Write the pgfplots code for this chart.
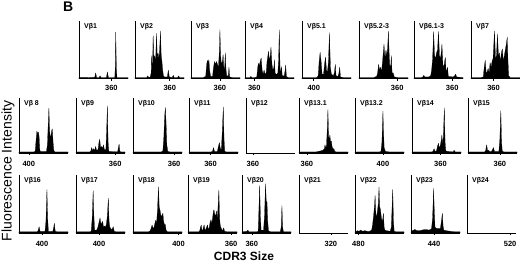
\documentclass[border=0pt]{standalone}
\usepackage{fontspec}
\setmainfont{Liberation Sans}
\usepackage{pgfplots}
\pgfplotsset{compat=1.18}
\newcommand\tickfont{\bfseries\fontsize{7.5}{8}\selectfont}
\newcommand\ttlfont{\bfseries\fontsize{7}{8}\selectfont}
\pgfplotsset{
 panel/.style={scale only axis, width=49pt, xmin=0, xmax=100, ymin=0, ymax=100,
   axis lines=left, axis line style={-, line width=0.8pt},
   ytick=\empty, tick align=outside, major tick length=2pt,
   xtick style={line width=0.6pt, black},
   xticklabel style={font=\tickfont, inner sep=1pt, yshift=-3pt},
   anchor=south west, clip=false},
 r1/.style={height=57.5pt},
 r2/.style={height=55pt, xticklabel style={yshift=-2pt}},
 r3/.style={height=58pt, xticklabel style={yshift=-2pt}},
 spec/.style={fill=black, draw=black, line width=0.2pt, line join=round},
}
\newcommand\ttl[1]{\node[anchor=north west, font=\ttlfont, inner sep=0pt] at (rel axis cs:0.1,0.96) {#1};}
\begin{document}
\begin{tikzpicture}
\useasboundingbox (0pt,0pt) rectangle (520pt,263pt);
\node[anchor=north west, inner sep=0pt, font=\bfseries\fontsize{14}{14}\selectfont] at (63pt,261pt) {B};
\node[rotate=90, font=\fontsize{14}{14}\selectfont] at (8pt,92pt) {Fluorescence Intensity};
\node[font=\bfseries\fontsize{12}{12}\selectfont, inner sep=0pt, anchor=base] at (244pt,2.5pt) {CDR3 Size};

% ---------- Row 1 ----------
\begin{axis}[panel, r1, at={(79pt,184.3pt)}, xtick={66}, xticklabels={360}]
\addplot[spec] coordinates {(0,2)(10,2.5)(20,2)(30,2.5)(32,2)(34,10)(36,2)(41,2)(43,5)(45,2)(56,2)(58,12)(60,2)(73,2)(74,20)(75,81)(76.2,20)(77.5,2)(90,2)(100,2)} \closedcycle;
\ttl{Vβ1}
\end{axis}
\begin{axis}[panel, r1, at={(135pt,184.3pt)}, xtick={71}, xticklabels={360}]
\addplot[spec] coordinates {(0,2)(20,2)(24,2)(26,5)(28,2)(31,3)(33,10)(34,40)(35,20)(36,30)(37,75)(38.5,35)(40,40)(42,30)(44,79)(45.5,35)(47,45)(49,35)(50.5,55)(52,83)(53.5,40)(55,30)(56.5,15)(58,5)(60,3)(66,3)(68,15)(70,3)(76,2)(78,6)(80,2)(87,2)(89,5)(91,2)(100,2)} \closedcycle;
\ttl{Vβ2}
\end{axis}
\begin{axis}[panel, r1, at={(191pt,184.3pt)}, xtick={59}, xticklabels={360}]
\addplot[spec] coordinates {(0,2)(25,2)(30,4)(32,25)(33.5,32)(35,28)(36.5,33)(38,15)(40,4)(44,4)(46,20)(48,30)(50,25)(52,30)(54,25)(56,20)(58,50)(59,85)(60.5,40)(62,25)(64,30)(65.5,42)(67,20)(68.5,15)(70,45)(71.5,15)(73,5)(76,5)(77.5,20)(79,3)(85,2)(100,2)} \closedcycle;
\ttl{Vβ3}
\end{axis}
\begin{axis}[panel, r1, at={(245pt,184.3pt)}, xtick={19}, xticklabels={360}]
\addplot[spec] coordinates {(0,2)(10,2)(12,4)(14,2)(20,2)(24,3)(26,20)(27.5,27)(29,22)(31,30)(33,36)(35,15)(37,8)(39,15)(40.5,10)(43,8)(45,30)(48,48)(50,30)(51.5,40)(53,55)(55,25)(57,15)(59,20)(60,33)(61.5,10)(63,8)(65,8)(67,10)(68.5,30)(70,85)(71.5,20)(73,10)(74.5,21)(76,5)(80,5)(82,15)(83,24)(84.5,4)(88,2)(100,2)} \closedcycle;
\ttl{Vβ4}
\end{axis}
\begin{axis}[panel, r1, at={(302pt,184.3pt)}, xtick={24}, xticklabels={400}]
\addplot[spec] coordinates {(0,2)(30,2)(33,5)(35,30)(37,46)(39,30)(41,8)(44,8)(46,25)(48,38)(50,15)(52,12)(54,30)(56,80)(58,20)(60,8)(64,5)(66,10)(68,25)(69.5,5)(73,4)(75,8)(77,20)(78.5,3)(85,2)(100,2)} \closedcycle;
\ttl{Vβ5.1}
\end{axis}
\begin{axis}[panel, r1, at={(359pt,184.3pt)}, xtick={78}, xticklabels={360}]
\addplot[spec] coordinates {(0,2)(30,2)(36,4)(38,10)(40,25)(42,15)(44,20)(46,12)(48,30)(51,60)(53,35)(55,50)(57,40)(58.5,55)(60,83)(61.5,45)(63,20)(65,25)(66,40)(67.5,10)(70,10)(72,3)(80,2)(100,2)} \closedcycle;
\ttl{Vβ5.2-3}
\end{axis}
\begin{axis}[panel, r1, at={(414pt,184.3pt)}, xtick={78}, xticklabels={360}]
\addplot[spec] coordinates {(0,2)(15,2)(18,3)(20,6)(22,3)(30,3)(34,5)(36,15)(38,35)(40,82)(42,40)(44,35)(46,45)(48,50)(50,82)(52,40)(54,35)(55.5,45)(57,60)(59,25)(61,20)(62.5,30)(64,37)(65.5,12)(67,15)(68.5,20)(70,4)(80,3)(83,5)(85,8)(87,3)(100,2)} \closedcycle;
\ttl{Vβ6.1-3}
\end{axis}
\begin{axis}[panel, r1, at={(471pt,184.3pt)}, xtick={46}, xticklabels={360}]
\addplot[spec] coordinates {(0,2)(20,2)(25,3)(27,20)(29,32)(31,10)(33,12)(35,18)(37,10)(39,28)(41,20)(43,30)(45,35)(48,83)(50,35)(52,40)(54,78)(56,40)(58,45)(60,30)(62,45)(64,52)(66,30)(68,40)(70,50)(72,60)(74,72)(75.5,30)(77,5)(80,2)(100,2)} \closedcycle;
\ttl{Vβ7}
\end{axis}

% ---------- Row 2 ----------
\begin{axis}[panel, r2, at={(19pt,110pt)}, xtick={20}, xticklabels={400}]
\addplot[spec] coordinates {(0,2)(30,2)(33,3)(35,25)(36.5,40)(38,35)(39.5,38)(41,30)(42.5,5)(44,3)(56,3)(58,15)(59.5,50)(61,82)(62.5,40)(64,28)(65,30)(66.5,40)(68,44)(69.5,20)(71,5)(73,2)(100,2)} \closedcycle;
\ttl{Vβ 8}
\end{axis}
\begin{axis}[panel, r2, at={(76pt,110pt)}, xtick={80}, xticklabels={360}]
\addplot[spec] coordinates {(0,2)(28,2)(30,3)(32,10)(34,4)(36,8)(38,4)(40,12)(42,5)(45,6)(47,20)(48.5,25)(50,10)(52,12)(54,8)(56,15)(58,6)(61,6)(62.5,40)(64,86)(65.5,20)(67,3)(85,2)(86.5,10)(88,16)(89.5,3)(92,2)(100,2)} \closedcycle;
\ttl{Vβ9}
\end{axis}
\begin{axis}[panel, r2, at={(133pt,110pt)}, xtick={84}, xticklabels={360}]
\addplot[spec] coordinates {(0,2)(58,2)(61,4)(63,30)(64.5,65)(66,83)(67.5,55)(69,15)(71,3)(75,2)(100,2)} \closedcycle;
\ttl{Vβ10}
\end{axis}
\begin{axis}[panel, r2, at={(189pt,110pt)}, xtick={44}, xticklabels={360}]
\addplot[spec] coordinates {(0,2)(45,2)(48,3)(50,10)(52,3)(58,3)(60,12)(62,19)(64,8)(66,6)(68,40)(70,84)(71.5,25)(73,3)(76,2)(100,2)} \closedcycle;
\ttl{Vβ11}
\end{axis}
\begin{axis}[panel, r2, at={(246pt,110pt)}, xtick={14}, xticklabels={360}]
\ttl{Vβ12}
\end{axis}
\begin{axis}[panel, r2, at={(299pt,110pt)}, xtick={16}, xticklabels={360}]
\addplot[spec] coordinates {(0,2)(35,2)(40,3)(45,4)(48,5)(50,6)(52,8)(53,15)(54.5,10)(56,12)(57.5,40)(59,79)(60.5,30)(62,25)(63,33)(64.5,20)(66,22)(67.5,12)(69,8)(71,8)(73,3)(76,2)(100,2)} \closedcycle;
\ttl{Vβ13.1}
\end{axis}
\begin{axis}[panel, r2, at={(355pt,110pt)}, xtick={57}, xticklabels={400}]
\addplot[spec] coordinates {(0,2)(50,2)(53,3)(55,20)(56,50)(57,76)(58,45)(59.5,10)(62,3)(70,2)(100,2)} \closedcycle;
\ttl{Vβ13.2}
\end{axis}
\begin{axis}[panel, r2, at={(412pt,110pt)}, xtick={58}, xticklabels={360}]
\addplot[spec] coordinates {(0,2)(40,2)(43,3)(45,8)(47,3)(50,4)(52,12)(54,18)(56,8)(58,15)(60,25)(61,33)(62.5,15)(64,30)(66,82)(67.5,20)(69,4)(72,3)(84,2)(86,5)(88,2)(100,2)} \closedcycle;
\ttl{Vβ14}
\end{axis}
\begin{axis}[panel, r2, at={(468pt,110pt)}, xtick={65}, xticklabels={360}]
\addplot[spec] coordinates {(0,2)(34,2)(36,4)(38,15)(40,4)(42,5)(44,3)(48,3)(50,6)(52,10)(54,3)(63,3)(65,25)(67,77)(68.5,20)(70,3)(74,2)(100,2)} \closedcycle;
\ttl{Vβ15}
\end{axis}

% ---------- Row 3 ----------
\begin{axis}[panel, r3, at={(19pt,30pt)}, xtick={47}, xticklabels={400}]
\addplot[spec] coordinates {(0,2)(37,2)(39,4)(41,11)(43,3)(53,3)(55,20)(57,75)(58.5,25)(60,3)(69,3)(71,10)(72,17)(74,3)(78,2)(100,2)} \closedcycle;
\ttl{Vβ16}
\end{axis}
\begin{axis}[panel, r3, at={(76pt,30pt)}, xtick={47}, xticklabels={400}]
\addplot[spec] coordinates {(0,2)(28,2)(31,3)(33,25)(35,73)(36.5,30)(38,5)(42,5)(44,8)(46,15)(48,22)(49,26)(51,15)(53,18)(54.5,20)(56,10)(58,12)(60,10)(62,15)(64,30)(66,60)(67.5,20)(69,10)(71,8)(73,5)(74.5,8)(76,11)(78,3)(82,2)(100,2)} \closedcycle;
\ttl{Vβ17}
\end{axis}
\begin{axis}[panel, r3, at={(133pt,30pt)}, xtick={93}, xticklabels={400}]
\addplot[spec] coordinates {(0,2)(32,2)(35,4)(37,8)(39,14)(41,8)(43,10)(45,18)(46.5,22)(48,15)(50,40)(52,80)(53.5,45)(55,40)(57,30)(59,30)(61,34)(62.5,20)(64,15)(66,15)(67.5,5)(70,2)(100,2)} \closedcycle;
\ttl{Vβ18}
\end{axis}
\begin{axis}[panel, r3, at={(188pt,30pt)}, xtick={88}, xticklabels={360}]
\addplot[spec] coordinates {(0,2)(22,2)(24,4)(25.5,10)(27,14)(28.5,5)(30,5)(31.5,10)(33,14)(34.5,5)(36,6)(38,10)(40,14)(41.5,6)(43,8)(45,18)(47,23)(48.5,15)(50,25)(52,38)(53,40)(55,30)(57,32)(58,38)(59.5,25)(61,40)(63,74)(64.5,25)(66,12)(68,8)(70,4)(71.5,6)(73,9)(74.5,3)(80,2)(100,2)} \closedcycle;
\ttl{Vβ19}
\end{axis}
\begin{axis}[panel, r3, at={(242pt,30pt)}, xtick={20}, xticklabels={360}]
\addplot[spec] coordinates {(0,2)(10,3)(12,5)(14,2)(20,2)(30,2)(33,3)(34.5,40)(36,82)(37.5,30)(39,5)(44,5)(46,30)(48,85)(49.5,55)(51,53)(52.5,20)(54,4)(58,2)(78,2)(80,10)(81.5,47)(83,10)(84.5,2)(100,2)} \closedcycle;
\ttl{Vβ20}
\end{axis}
\begin{axis}[panel, r3, at={(299pt,30pt)}, xtick={65}, xticklabels={320}]
\ttl{Vβ21}
\end{axis}
\begin{axis}[panel, r3, at={(355pt,30pt)}, xtick={7}, xticklabels={480}]
\addplot[spec] coordinates {(0,2)(5,4)(8,3)(12,5)(15,3)(20,4)(25,3)(30,3)(34,5)(36,15)(38,30)(40,50)(41,65)(42.5,35)(44,25)(46,40)(47.5,50)(49,79)(50.5,45)(52,40)(54,25)(56,20)(58,34)(59.5,10)(61,5)(64,4)(72,3)(74,10)(75.5,40)(77,75)(78.5,20)(80,3)(84,2)(100,2)} \closedcycle;
\ttl{Vβ22}
\end{axis}
\begin{axis}[panel, r3, at={(411pt,30pt)}, xtick={47}, xticklabels={440}]
\addplot[spec] coordinates {(0,2)(3,4)(8,6)(12,4)(18,4)(22,5)(28,6)(32,6)(36,5)(40,6)(42,8)(44,25)(45.5,60)(46,77)(47.5,40)(49,10)(52,8)(56,8)(60,8)(62,20)(64,34)(65.5,12)(67,5)(72,4)(80,3)(90,2)(100,2)} \closedcycle;
\ttl{Vβ23}
\end{axis}
\begin{axis}[panel, r3, at={(467pt,30pt)}, xtick={88}, xticklabels={520}]
\ttl{Vβ24}
\end{axis}
\end{tikzpicture}
\end{document}
